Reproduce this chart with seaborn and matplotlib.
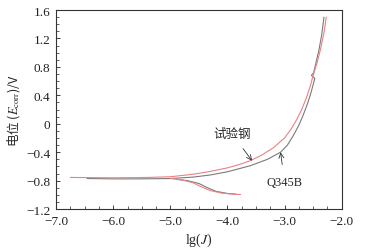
import matplotlib
matplotlib.use("Agg")
import matplotlib.pyplot as plt
from matplotlib.ticker import MultipleLocator
import seaborn as sns
import pandas as pd

# test steel (red)
red_up_x = [-6.75, -6.0, -5.4, -5.0, -4.6, -4.3, -4.0, -3.8, -3.6, -3.4, -3.2, -3.0, -2.89, -2.78,
            -2.7, -2.62, -2.55, -2.5, -2.43, -2.37, -2.31, -2.27]
red_up_y = [-0.755, -0.76, -0.755, -0.745, -0.71, -0.67, -0.62, -0.575, -0.52, -0.44, -0.34, -0.20,
            -0.08, 0.07, 0.20, 0.36, 0.53, 0.68, 0.86, 1.05, 1.28, 1.50]
red_lo_x = [-5.0, -4.8, -4.6, -4.45, -4.3, -4.1, -3.9, -3.77]
red_lo_y = [-0.77, -0.79, -0.83, -0.89, -0.94, -0.975, -0.99, -0.995]

# Q345B (gray)
gray_up_x = [-6.46, -6.0, -5.5, -5.0, -4.6, -4.3, -4.0, -3.6, -3.3, -3.07, -2.95, -2.85, -2.75,
             -2.67, -2.6, -2.54, -2.5, -2.47, -2.53, -2.49, -2.45, -2.4, -2.35, -2.31]
gray_up_y = [-0.77, -0.775, -0.775, -0.77, -0.75, -0.72, -0.675, -0.59, -0.50, -0.40, -0.30, -0.17, -0.02,
             0.13, 0.28, 0.43, 0.55, 0.64, 0.68, 0.72, 0.86, 1.03, 1.25, 1.50]
gray_lo_x = [-4.9, -4.7, -4.5, -4.35, -4.2, -4.0, -3.85]
gray_lo_y = [-0.78, -0.80, -0.84, -0.90, -0.95, -0.98, -0.99]

rows = []
for name, branch, xs, ys in [("Q345B", "up", gray_up_x, gray_up_y),
                             ("Q345B", "lo", gray_lo_x, gray_lo_y),
                             ("test", "up", red_up_x, red_up_y),
                             ("test", "lo", red_lo_x, red_lo_y)]:
    for x, y in zip(xs, ys):
        rows.append({"lgJ": x, "E": y, "steel": name, "branch": branch})
df = pd.DataFrame(rows)

sns.set_style("ticks")
plt.rcParams["font.family"] = ["Liberation Serif", "Noto Sans CJK SC"]
plt.rcParams["mathtext.fontset"] = "stix"

fig = plt.figure(figsize=(3.67, 2.51), dpi=100)
ax = fig.add_axes([0.153, 0.163, 0.778, 0.793])

sns.lineplot(data=df, x="lgJ", y="E", hue="steel", units="branch", estimator=None,
             sort=False, palette={"Q345B": "#7a7a7a", "test": "#ee7f86"},
             linewidth=0.8, legend=False, ax=ax)

ax.set_xlim(-7.0, -2.0)
ax.set_ylim(-1.2, 1.6)
ax.xaxis.set_minor_locator(MultipleLocator(0.25))
ax.yaxis.set_minor_locator(MultipleLocator(0.1))
ax.set_xticks([-7, -6, -5, -4, -3, -2])
ax.set_xticklabels(["\u22127.0", "\u22126.0", "\u22125.0", "\u22124.0", "\u22123.0", "\u22122.0"])
ax.set_yticks([-1.2, -0.8, -0.4, 0, 0.4, 0.8, 1.2, 1.6])
ax.set_yticklabels(["\u22121.2", "\u22120.8", "\u22120.4", "0", "0.4", "0.8", "1.2", "1.6"])
ax.tick_params(which="major", direction="in", length=3, width=0.6, labelsize=9.5, pad=4, colors="#222222")
ax.tick_params(which="minor", direction="in", length=2, width=0.5, colors="#222222")
for s in ax.spines.values():
    s.set_linewidth(0.8)
    s.set_color("#333333")

ax.set_xlabel("lg($J$)", fontsize=10, labelpad=3)
ax.set_ylabel("电位 ($E_{\\rm corr}$)/V", fontsize=9, labelpad=3,
              fontfamily="Noto Sans CJK SC", math_fontfamily="stix")

ax.annotate("试验钢", xy=(-3.57, -0.52), xytext=(-3.92, -0.14), fontsize=9,
            ha="center", va="center",
            arrowprops=dict(arrowstyle="->", color="#333333", lw=0.6, shrinkA=5, shrinkB=0))
ax.annotate("Q345B", xy=(-3.07, -0.40), xytext=(-3.0, -0.82), fontsize=9,
            ha="center", va="center",
            arrowprops=dict(arrowstyle="->", color="#333333", lw=0.6, shrinkA=6, shrinkB=0))

fig.savefig("out.png", dpi=100)
